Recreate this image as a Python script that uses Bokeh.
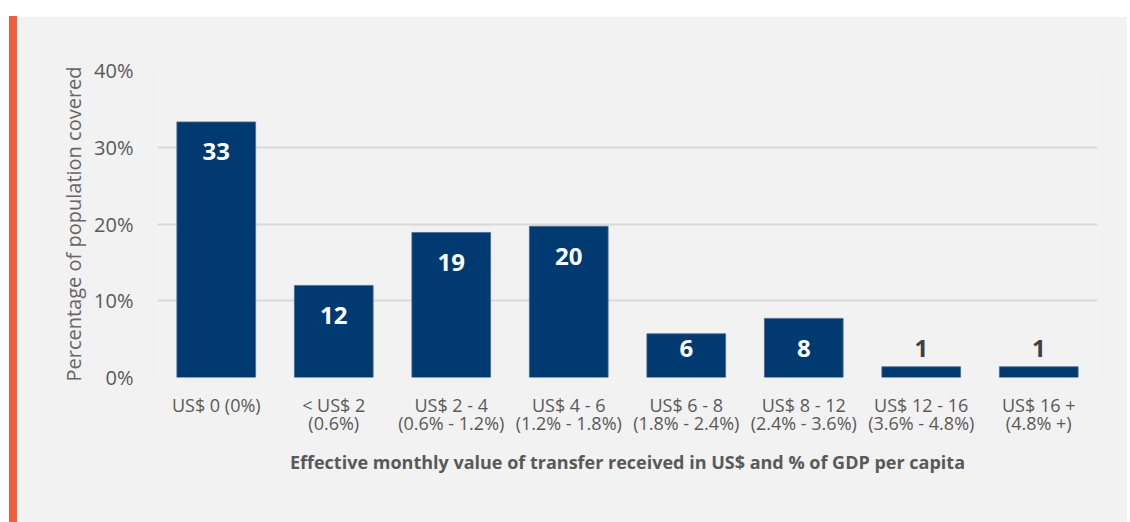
import numpy as np
from bokeh.plotting import figure
from bokeh.models import (ColumnDataSource, FactorRange, FixedTicker,
                          PrintfTickFormatter, Div, Spacer)
from bokeh.layouts import column, row
from bokeh.core.properties import value
from bokeh.embed import file_html
from bokeh.resources import INLINE

categories = [
    "US$ 0 (0%)",
    "< US$ 2\n(0.6%)",
    "US$ 2 - 4\n(0.6% - 1.2%)",
    "US$ 4 - 6\n(1.2% - 1.8%)",
    "US$ 6 - 8\n(1.8% - 2.4%)",
    "US$ 8 - 12\n(2.4% - 3.6%)",
    "US$ 12 - 16\n(3.6% - 4.8%)",
    "US$ 16 +\n(4.8% +)",
]
values = [33.3, 12.0, 18.9, 19.7, 5.7, 7.7, 1.4, 1.4]
bar_labels = ["33", "12", "19", "20", "6", "8", "1", "1"]
y_ticks = [0, 10, 20, 30, 40]

FONT = "Open Sans"
BG = "#f2f2f2"
NAVY = "#003a70"

vals = np.array(values)
label_y = np.maximum(vals - 3.9, 3.8)
label_color = ["#ffffff" if v >= 4 else "#404040" for v in vals]

src = ColumnDataSource(dict(cat=categories, val=values, ly=label_y,
                            lab=bar_labels, lc=label_color))

p = figure(x_range=FactorRange(*categories, range_padding=0),
           y_range=(0, 40), width=1110, height=506,
           output_backend="svg", toolbar_location=None,
           min_border_left=140, min_border_right=30,
           min_border_top=54, min_border_bottom=145, margin=0)
p.background_fill_color = BG
p.border_fill_color = BG
p.outline_line_color = None

p.vbar(x="cat", top="val", width=0.67, source=src, fill_color=NAVY,
       line_color="#4a6c94", line_width=0.8)
p.text(x="cat", y="ly", text="lab", source=src, text_color="lc",
       text_align="center", text_baseline="middle",
       text_font=value(FONT), text_font_style="bold", text_font_size="24px")

p.xgrid.grid_line_color = None
p.ygrid.grid_line_color = "#d9d9d9"
p.ygrid.grid_line_width = 2
p.ygrid.ticker = FixedTicker(ticks=y_ticks)

ya = p.yaxis[0]
ya.ticker = FixedTicker(ticks=y_ticks)
ya.formatter = PrintfTickFormatter(format="%d%%")
ya.axis_line_color = None
ya.major_tick_line_color = None
ya.minor_tick_line_color = None
ya.major_label_text_font = FONT
ya.major_label_text_font_size = "20px"
ya.major_label_text_color = "#595959"
ya.major_label_standoff = 18
ya.axis_label = "Percentage of population covered"
ya.axis_label_text_font = FONT
ya.axis_label_text_font_size = "20px"
ya.axis_label_text_font_style = "normal"
ya.axis_label_text_color = "#666666"
ya.axis_label_standoff = 4

xa = p.xaxis[0]
xa.axis_line_color = None
xa.major_tick_line_color = None
xa.minor_tick_line_color = None
xa.major_label_text_font = FONT
xa.major_label_text_font_size = "18px"
xa.major_label_text_color = "#595959"
xa.major_label_text_line_height = 0.78
xa.major_label_standoff = 9
xa.axis_label = "Effective monthly value of transfer received in US$ and % of GDP per capita"
xa.axis_label_text_font = FONT
xa.axis_label_text_font_size = "18px"
xa.axis_label_text_font_style = "bold"
xa.axis_label_text_color = "#595959"
xa.axis_label_standoff = 12

lead = Spacer(width=9, height=506, margin=0)
strip = Div(width=8, height=506, margin=0,
            styles={"background-color": "#f05f3c"})
layout = column(Spacer(height=16, margin=0),
                row(lead, strip, p, margin=0, spacing=0),
                margin=0, spacing=0)

open("out.html", "w").write(file_html(layout, INLINE))
